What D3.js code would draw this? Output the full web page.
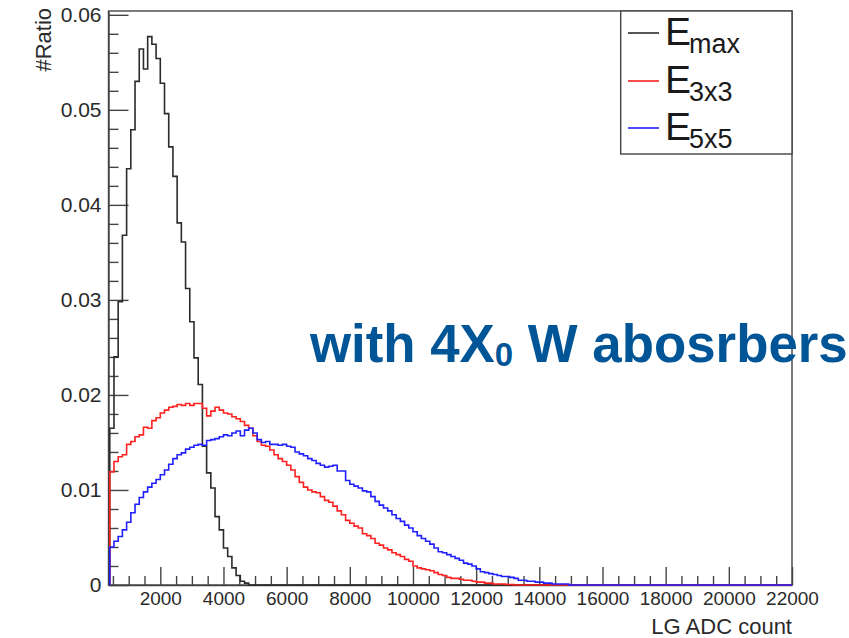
<!DOCTYPE html>
<html>
<head>
<meta charset="utf-8">
<script src="https://cdn.jsdelivr.net/npm/d3@7"></script>
<style>
body { margin: 0; background: #fff; }
svg { display: block; }
text { font-family: "Liberation Sans", Arial, Helvetica, sans-serif; white-space: pre; }
</style>
</head>
<body>
<div id="viz"></div>
<script>
// histogram binning (ADC counts)
const binStart = 400;
const binWidth = 400 / 3;

// E_max, one value per bin starting at binStart
const emax = [0.0165, 0.0240, 0.0298, 0.0368, 0.0438, 0.0479, 0.0530, 0.0564, 0.0543, 0.0577,
	0.0569, 0.0554, 0.0528, 0.0496, 0.0461, 0.0430, 0.0381, 0.0361, 0.0312, 0.0277,
	0.0239, 0.0211, 0.0146, 0.0118, 0.0102, 0.0072, 0.0058, 0.0039, 0.0030, 0.0018,
	0.0010, 0.0004, 0.0002];

// E_3x3
const e3x3 = [0.0119, 0.0130, 0.0135, 0.0137, 0.0148, 0.0151, 0.0156, 0.0158, 0.0166, 0.0165,
	0.0173, 0.0176, 0.0181, 0.0184, 0.0187, 0.0188, 0.0190, 0.0189, 0.0191, 0.0189,
	0.0191, 0.0191, 0.0186, 0.0178, 0.0183, 0.0187, 0.0184, 0.0181, 0.0180, 0.0177,
	0.0175, 0.0172, 0.0168, 0.0165, 0.0157, 0.0151, 0.0147, 0.0146, 0.0142, 0.0137,
	0.0133, 0.0130, 0.0126, 0.0121, 0.0114, 0.0108, 0.0103, 0.0100, 0.0098, 0.0097,
	0.0093, 0.0089, 0.0087, 0.0083, 0.0078, 0.0074, 0.0068, 0.0065, 0.0062, 0.0060,
	0.0054, 0.0052, 0.0049, 0.0044, 0.0042, 0.0039, 0.0037, 0.0034, 0.0032, 0.0030,
	0.0027, 0.0025, 0.0020, 0.0018, 0.0017, 0.0016, 0.0015, 0.0013, 0.0011, 0.0010,
	0.0008, 0.0007, 0.0007, 0.0006, 0.0005, 0.0005, 0.0004, 0.0003, 0.0003, 0.0002,
	0.0002, 0.0001, 0.0001, 0.0001, 0.00005, 0.00005];

// E_5x5
const e5x5 = [0.0040, 0.0046, 0.0051, 0.0058, 0.0066, 0.0076, 0.0085, 0.0092, 0.0098, 0.0103,
	0.0107, 0.0111, 0.0116, 0.0121, 0.0127, 0.0133, 0.0137, 0.0139, 0.0143, 0.0145,
	0.0147, 0.0148, 0.0147, 0.0152, 0.0153, 0.0154, 0.0156, 0.0158, 0.0157, 0.0160,
	0.0162, 0.0157, 0.0163, 0.0165, 0.0160, 0.0153, 0.0150, 0.0151, 0.0148, 0.0148,
	0.0147, 0.0148, 0.0146, 0.0145, 0.0140, 0.0138, 0.0136, 0.0133, 0.0131, 0.0128,
	0.0126, 0.0124, 0.0125, 0.0126, 0.0120, 0.0120, 0.0110, 0.0106, 0.0104, 0.0102,
	0.0099, 0.0098, 0.0093, 0.0088, 0.0084, 0.0081, 0.0078, 0.0074, 0.0070, 0.0067,
	0.0063, 0.0060, 0.0056, 0.0052, 0.0049, 0.0046, 0.0043, 0.0039, 0.0035, 0.0034,
	0.0032, 0.0030, 0.0028, 0.0026, 0.0023, 0.0022, 0.0020, 0.0017, 0.0014, 0.0013,
	0.0012, 0.0011, 0.0010, 0.0009, 0.0009, 0.0008, 0.0007, 0.0005, 0.0005, 0.0004,
	0.0004, 0.0003, 0.0003, 0.0002, 0.0002, 0.0001, 0.0001, 0.0001, 0.0001];

const xTicks = [2000, 4000, 6000, 8000, 10000, 12000, 14000, 16000, 18000, 20000, 22000];
const yTicks = [0, 0.01, 0.02, 0.03, 0.04, 0.05, 0.06];
const legendSubs = ["max", "3x3", "5x5"];

const series = [
	{values: emax, color: "#2b2b2b"},
	{values: e3x3, color: "#ff2020"},
	{values: e5x5, color: "#2020ff"}
];

const W = 849, H = 638;
const plotL = 108.5, plotR = 792, plotT = 11, plotB = 585;

const svg = d3.select("#viz").append("svg")
	.attr("width", W).attr("height", H);

svg.append("rect").attr("width", W).attr("height", H).style("fill", "white");

const x = d3.scaleLinear().domain([360, 22000]).range([plotL, plotR]);
const y = d3.scaleLinear().domain([0, 0.0604]).range([plotB, plotT]);

// minor ticks
const xMinor = d3.range(500, 22001, 500).filter(v => v % 2000 !== 0);
const yMinor = d3.range(1, 31).map(i => i * 0.002).filter((v, i) => (i + 1) % 5 !== 0);

const axisColor = "#444";

let gx = svg.append("g").attr("transform", "translate(0," + plotB + ")")
	.call(d3.axisBottom(x).tickValues(xTicks).tickFormat(d3.format("d"))
		.tickSizeInner(-18).tickSizeOuter(0).tickPadding(6.5));
svg.append("g").attr("transform", "translate(0," + plotB + ")")
	.call(d3.axisBottom(x).tickValues(xMinor).tickFormat("")
		.tickSizeInner(-9).tickSizeOuter(0))
	.select(".domain").remove();

let gy = svg.append("g").attr("transform", "translate(" + plotL + ",0)")
	.call(d3.axisLeft(y).tickValues(yTicks).tickFormat(d => d === 0 ? "0" : d.toFixed(2))
		.tickSizeInner(-20).tickSizeOuter(0).tickPadding(7));
svg.append("g").attr("transform", "translate(" + plotL + ",0)")
	.call(d3.axisLeft(y).tickValues(yMinor).tickFormat("")
		.tickSizeInner(-10).tickSizeOuter(0))
	.select(".domain").remove();

svg.selectAll(".tick line, .domain").attr("stroke", axisColor).attr("stroke-width", 1.4);
gx.selectAll("text").style("font-size", "19px").style("fill", "#2a2a2a")
	.style("font-family", "'Liberation Sans', Arial, sans-serif");
gy.selectAll("text").style("font-size", "21px").style("fill", "#2a2a2a")
	.style("font-family", "'Liberation Sans', Arial, sans-serif");

// frame
svg.append("rect")
	.attr("x", plotL).attr("y", plotT)
	.attr("width", plotR - plotL).attr("height", plotB - plotT)
	.style("fill", "none").style("stroke", axisColor).style("stroke-width", 1.4);

// axis titles
svg.append("text")
	.attr("x", plotR).attr("y", 634)
	.attr("text-anchor", "end")
	.style("font-size", "22px").style("fill", "#2a2a2a")
	.text("LG ADC count");

svg.append("text")
	.attr("transform", "translate(51,8) rotate(-90)")
	.attr("text-anchor", "end")
	.style("font-size", "22px").style("fill", "#2a2a2a")
	.text("#Ratio");

// histograms
const line = d3.line()
	.x(d => x(d[0]))
	.y(d => y(d[1]))
	.curve(d3.curveStepAfter);

function histPoints(vals) {
	let pts = [[binStart, 0]];
	vals.forEach((v, i) => pts.push([binStart + i * binWidth, v]));
	pts.push([binStart + vals.length * binWidth, 0]);
	pts.push([22000, 0]);
	return pts;
}

series.forEach(s => {
	svg.append("path")
		.attr("d", line(histPoints(s.values)))
		.style("fill", "none")
		.style("stroke", s.color)
		.style("stroke-width", 1.6);
});

// legend
const lg = svg.append("g");
lg.append("rect")
	.attr("x", 620.7).attr("y", plotT)
	.attr("width", plotR - 620.7).attr("height", 143)
	.style("fill", "white").style("stroke", axisColor).style("stroke-width", 1.4);

const rowY = [45, 93, 140];
series.forEach((s, i) => {
	lg.append("line")
		.attr("x1", 628).attr("x2", 659)
		.attr("y1", rowY[i] - 12).attr("y2", rowY[i] - 12)
		.style("stroke", s.color).style("stroke-width", 1.6);
	let t = lg.append("text")
		.attr("x", 665).attr("y", rowY[i])
		.style("font-size", "39px").style("fill", "#1a1a1a");
	t.append("tspan").text("E");
	t.append("tspan").attr("dx", -2).attr("dy", 8).style("font-size", "27px").text(legendSubs[i]);
});

// annotation
let ann = svg.append("text")
	.attr("x", 310).attr("y", 362)
	.style("font-size", "52.8px").style("font-weight", "bold").style("fill", "#005596");
ann.append("tspan").text("with 4X");
ann.append("tspan").attr("dy", 4).style("font-size", "33px").text("0");
ann.append("tspan").attr("dy", -4).text(" W abosrbers");
</script>
</body>
</html>
